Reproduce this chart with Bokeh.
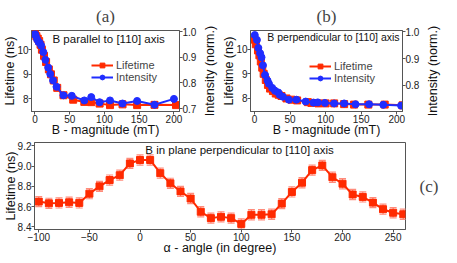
import math
from bokeh.plotting import figure
from bokeh.models import (Range1d, LinearAxis, FixedTicker, Legend, LegendItem,
                          Label, Whisker, TeeHead, ColumnDataSource, NumeralTickFormatter)
from bokeh.layouts import column, row
from bokeh.embed import file_html
from bokeh.resources import INLINE

# ---------------- data ----------------
# panel (a): B parallel to [110]
a_life_x = [0, 2, 4, 6, 8, 10, 13, 16, 20, 23, 27, 32, 41, 55, 71, 81, 93, 108, 126, 147, 172, 203]
a_life_y = [10.65, 10.55, 10.45, 10.35, 10.2, 10.0, 9.75, 9.5, 9.2, 9.0, 8.75, 8.45, 8.15,
            7.97, 7.88, 7.87, 7.81, 7.75, 7.78, 7.75, 7.76, 7.75]
a_int_x = [0, 1, 3, 5, 7, 9, 12, 15, 19, 22, 26, 31, 41, 53, 71, 81, 93, 108, 126, 147, 172, 200]
a_int_y = [0.99, 0.985, 0.97, 0.96, 0.955, 0.945, 0.92, 0.89, 0.86, 0.835, 0.81, 0.785, 0.752,
           0.75, 0.732, 0.745, 0.725, 0.732, 0.72, 0.73, 0.715, 0.738]

# panel (b): B perpendicular to [110]
b_life_x = [0, 2, 5, 7, 9, 11, 13, 16, 19, 22, 26, 30, 34, 38, 45, 52, 60, 75, 80, 90, 100,
            112, 126, 140, 160, 183, 208]
b_life_y = [10.39, 10.2, 9.95, 9.75, 9.5, 9.25, 9.0, 8.75, 8.55, 8.4, 8.3, 8.2, 8.15, 8.1, 8.0,
            7.95, 7.92, 7.85, 7.82, 7.8, 7.8, 7.8, 7.77, 7.75, 7.75, 7.75, 7.72]
b_int_x = [0.5, 3.5, 5.5, 8, 10, 12, 15, 18.5, 20.5, 25, 29, 33.5, 35.5, 40, 48.5, 59, 72, 83,
           89, 99, 112, 126, 142, 161, 181, 206]
b_int_y = [0.988, 0.970, 0.940, 0.920, 0.905, 0.875, 0.839, 0.818, 0.806, 0.791, 0.780, 0.774,
           0.765, 0.758, 0.747, 0.747, 0.740, 0.736, 0.737, 0.735, 0.733, 0.733, 0.730, 0.730,
           0.728, 0.725]

# panel (c): B in plane perpendicular to [110]
c_angle = [-100, -90, -80, -70, -60, -50, -40, -30, -20, -10, 0, 10, 20, 30, 40, 50, 60, 70,
           80, 90, 100, 110, 120, 130, 140, 150, 160, 170, 180, 190, 200, 210, 220, 230, 240,
           250, 260]
c_life = [8.65, 8.633, 8.637, 8.643, 8.637, 8.728, 8.80, 8.862, 8.91, 9.026, 9.06, 9.06, 8.93,
          8.83, 8.75, 8.68, 8.55, 8.487, 8.50, 8.487, 8.43, 8.52, 8.52, 8.525, 8.63, 8.745,
          8.836, 8.96, 9.006, 8.89, 8.826, 8.72, 8.696, 8.64, 8.575, 8.54, 8.525]
c_err = [0.05] * len(c_angle)

x_ticks_ab = [0, 50, 100, 150, 200]
y_ticks_ab = [8, 9, 10]
int_ticks = [0.7, 0.8, 0.9, 1.0]
x_ticks_c = [-100, -50, 0, 50, 100, 150, 200, 250]
y_ticks_c = [8.4, 8.6, 8.8, 9.0, 9.2]

RED = "#ff2a00"
BLUE = "#1f2dff"
ERR = "#ff8c7c"
FRAME = "#555555"
SANS = "Liberation Sans"
SERIF = "Liberation Serif"
TOP_FH = 81


def style_axis(ax):
    ax.major_label_text_font = SANS
    ax.major_label_text_font_size = "10px"
    ax.major_label_text_color = "#222222"
    ax.axis_label_text_font = SANS
    ax.axis_label_text_font_size = "12.5px"
    ax.axis_label_text_font_style = "normal"
    ax.axis_label_text_color = "#111111"
    ax.major_tick_in = 0
    ax.major_tick_out = 3
    ax.minor_tick_line_color = None
    ax.major_label_standoff = 0
    ax.axis_label_standoff = -3
    ax.axis_line_color = FRAME
    ax.major_tick_line_color = FRAME


def base_fig(w, fh, xr, yr, title=None):
    p = figure(width=w, frame_height=fh, x_range=Range1d(*xr), y_range=Range1d(*yr),
               output_backend="svg", toolbar_location=None, title=title)
    p.min_border_left = 0
    p.min_border_right = 0
    p.min_border_top = 0
    p.min_border_bottom = 0
    p.xgrid.visible = False
    p.ygrid.visible = False
    p.outline_line_color = FRAME
    p.outline_line_width = 1
    p.background_fill_color = "white"
    p.border_fill_color = "white"
    if title:
        p.title.text_font = SERIF
        p.title.text_font_size = "17px"
        p.title.text_font_style = "normal"
        p.title.align = "center"
        p.title.standoff = 9
    return p


def label_strip(w):
    """Narrow figure that only carries the right-hand axis title (reads bottom-to-top)."""
    s = figure(width=w, frame_height=TOP_FH, x_range=Range1d(0, 1), y_range=Range1d(0, 1),
               output_backend="svg", toolbar_location=None, title=" ")
    s.xaxis.visible = False
    s.yaxis.visible = False
    s.title.text_font = SERIF
    s.title.text_font_size = "17px"
    s.title.standoff = 9
    s.min_border_left = 0
    s.min_border_right = 0
    s.min_border_top = 0
    s.min_border_bottom = 27
    s.outline_line_color = None
    s.xgrid.visible = False
    s.ygrid.visible = False
    ax = LinearAxis(ticker=FixedTicker(ticks=[]), axis_label="Intensity (norm.)")
    style_axis(ax)
    ax.axis_line_color = None
    ax.major_tick_line_color = None
    ax.major_tick_out = 0
    ax.axis_label_standoff = -2
    s.add_layout(ax, "left")
    return s


def lifetime_intensity_panel(w, title, xr, yr, ir, int_tick_list,
                             lx, ly, ix, iy, caption, cap_xy, cap_size, legend_loc):
    p = base_fig(w, TOP_FH, xr, yr, title)
    p.extra_y_ranges = {"int": Range1d(*ir)}
    p.xaxis.axis_label = "B - magnitude (mT)"
    p.xaxis.ticker = FixedTicker(ticks=x_ticks_ab)
    p.yaxis.axis_label = "Lifetime (ns)"
    p.yaxis.ticker = FixedTicker(ticks=y_ticks_ab)
    ax_r = LinearAxis(y_range_name="int",
                      ticker=FixedTicker(ticks=int_tick_list),
                      formatter=NumeralTickFormatter(format="0.0"))
    p.add_layout(ax_r, "right")
    for ax in [p.xaxis[0], p.yaxis[0], ax_r]:
        style_axis(ax)

    rl = p.line(lx, ly, line_color=RED, line_width=2)
    rs = p.scatter(lx, ly, marker="square", size=7, fill_color=RED, line_color=RED)
    bl = p.line(ix, iy, line_color=BLUE, line_width=2, y_range_name="int")
    bs = p.scatter(ix, iy, marker="circle", size=7, fill_color=BLUE, line_color=BLUE,
                   y_range_name="int")
    leg = Legend(items=[LegendItem(label="Lifetime", renderers=[rl, rs]),
                        LegendItem(label="Intensity", renderers=[bl, bs])],
                 location=legend_loc, border_line_color=None, background_fill_alpha=0,
                 label_text_font=SANS, label_text_font_size="11px",
                 glyph_width=22, glyph_height=12, label_height=12, spacing=0,
                 padding=0, margin=0, label_standoff=3)
    p.add_layout(leg)
    p.add_layout(Label(x=cap_xy[0], y=cap_xy[1], text=caption, text_font=SANS,
                       text_font_size=cap_size, text_align="center",
                       text_baseline="middle", text_color="#111111"))
    return p


pa = lifetime_intensity_panel(199, "(a)", (-5, 208), (7.49, 10.78), (0.689, 1.004),
                              int_ticks, a_life_x, a_life_y, a_int_x, a_int_y,
                              "B parallel to [110] axis", (106, 10.43), "11.5px", (60, 28))
sa = label_strip(20)
pb = lifetime_intensity_panel(203, "(b)", (-5.5, 208), (7.47, 10.76), (0.703, 1.005),
                              int_ticks, b_life_x, b_life_y, b_int_x, b_int_y,
                              "B perpendicular to [110] axis", (111, 10.48), "10.5px", (59, 27))
sb = label_strip(19)

# panel (c)
pc = base_fig(441, 87, (-104.2, 262.2), (8.375, 9.232))
pc.min_border_top = 3
pc.xaxis.axis_label = "\u03b1 - angle (in degree)"
pc.xaxis.ticker = FixedTicker(ticks=x_ticks_c)
pc.yaxis.axis_label = "Lifetime (ns)"
pc.yaxis.ticker = FixedTicker(ticks=y_ticks_c)
pc.yaxis.formatter = NumeralTickFormatter(format="0.0")
for ax in [pc.xaxis[0], pc.yaxis[0]]:
    style_axis(ax)
cap_ax = LinearAxis(ticker=FixedTicker(ticks=[]), axis_label="(c)",
                    axis_label_orientation="horizontal")
cap_ax.axis_line_color = None
cap_ax.major_tick_line_color = None
cap_ax.minor_tick_line_color = None
cap_ax.axis_label_text_font = SERIF
cap_ax.axis_label_text_font_size = "17px"
cap_ax.axis_label_text_font_style = "normal"
cap_ax.axis_label_standoff = 14
pc.add_layout(cap_ax, "right")

src_c = ColumnDataSource(dict(x=c_angle, y=c_life,
                              up=[v + e for v, e in zip(c_life, c_err)],
                              lo=[v - e for v, e in zip(c_life, c_err)]))
pc.add_layout(Whisker(source=src_c, base="x", upper="up", lower="lo",
                      line_color=ERR, line_width=1.2,
                      upper_head=TeeHead(size=7, line_color=ERR, line_width=1.2),
                      lower_head=TeeHead(size=7, line_color=ERR, line_width=1.2)))
pc.line("x", "y", source=src_c, line_color=RED, line_width=2)
pc.scatter("x", "y", source=src_c, marker="square", size=7, fill_color=RED, line_color=RED)
pc.add_layout(Label(x=98.3, y=9.157, text="B in plane perpendicular to [110] axis",
                    text_font=SANS, text_font_size="11.5px", text_align="center",
                    text_baseline="middle", text_color="#111111"))

layout = column(row(pa, sa, pb, sb), pc)
open("out.html", "w").write(file_html(layout, INLINE))
